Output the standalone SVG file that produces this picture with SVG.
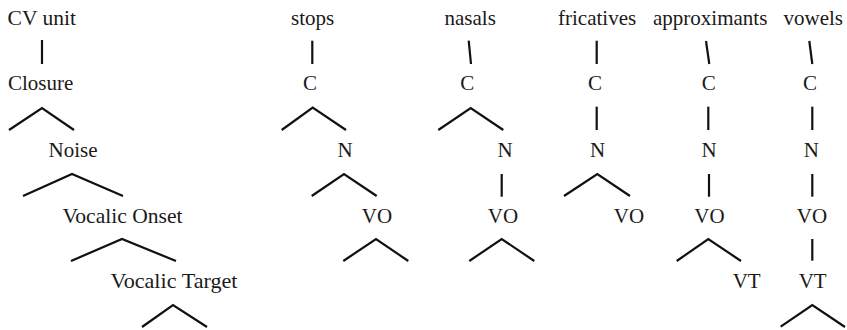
<svg xmlns="http://www.w3.org/2000/svg" width="847" height="330" viewBox="0 0 847 330">
<style>
text{font-family:"Liberation Serif","Times New Roman",serif;font-size:21px;fill:#1a1a1a}
.m{text-anchor:middle}
.c path{fill:none;stroke:#111;stroke-width:2.2;stroke-linejoin:miter;stroke-linecap:butt}
</style>
<rect width="847" height="330" fill="#fff"/>
<g id="cv-unit"><text x="7.5" y="25" textLength="68.5" lengthAdjust="spacingAndGlyphs">CV unit</text></g>
<g id="closure"><text x="8" y="90">Closure</text></g>
<g id="noise"><text x="48.5" y="157">Noise</text></g>
<g id="vocalic-onset"><text x="62.5" y="223" textLength="120" lengthAdjust="spacingAndGlyphs">Vocalic Onset</text></g>
<g id="vocalic-target"><text x="110.5" y="288" textLength="127" lengthAdjust="spacingAndGlyphs">Vocalic Target</text></g>

<g id="stops"><text x="291" y="25">stops</text></g>
<g id="stops-C"><text class="m" x="310" y="90">C</text></g>
<g id="stops-N"><text class="m" x="345" y="157">N</text></g>
<g id="stops-VO"><text class="m" x="377" y="223">VO</text></g>

<g id="nasals"><text x="444.5" y="25">nasals</text></g>
<g id="nasals-C"><text class="m" x="467.3" y="90">C</text></g>
<g id="nasals-N"><text class="m" x="505.2" y="157">N</text></g>
<g id="nasals-VO"><text class="m" x="503" y="223">VO</text></g>

<g id="fricatives"><text x="558" y="25">fricatives</text></g>
<g id="fricatives-C"><text class="m" x="595" y="90">C</text></g>
<g id="fricatives-N"><text class="m" x="597.5" y="157">N</text></g>
<g id="fricatives-VO"><text class="m" x="629" y="223">VO</text></g>

<g id="approximants"><text x="653" y="25">approximants</text></g>
<g id="approximants-C"><text class="m" x="708.7" y="90">C</text></g>
<g id="approximants-N"><text class="m" x="709" y="157">N</text></g>
<g id="approximants-VO"><text class="m" x="709.5" y="223">VO</text></g>
<g id="approximants-VT"><text class="m" x="746.7" y="288">VT</text></g>

<g id="vowels"><text x="783.5" y="25">vowels</text></g>
<g id="vowels-C"><text class="m" x="810" y="90">C</text></g>
<g id="vowels-N"><text class="m" x="811.3" y="157">N</text></g>
<g id="vowels-VO"><text class="m" x="812" y="223">VO</text></g>
<g id="vowels-VT"><text class="m" x="812.7" y="288">VT</text></g>

<g id="connectors" class="c">
<path d="M42 40V64"/>
<path d="M9 130L42 108L74 130"/>
<path d="M23 196L72 174L123 196"/>
<path d="M71 261L122 239L176 261"/>
<path d="M142 327L173 305L207 327"/>

<path d="M312.3 40.7V64"/>
<path d="M281.7 130L312.7 107.7L346 130"/>
<path d="M311.7 196L344 174L376.7 196"/>
<path d="M343.3 261L376 239L408.3 261"/>

<path d="M468.7 40.7L471 64"/>
<path d="M438.3 130L470.7 108L503.3 130"/>
<path d="M501.7 174V196.7"/>
<path d="M469.3 261L501.7 239L534.3 261"/>

<path d="M596.7 40.7V64"/>
<path d="M596.7 106.7V130"/>
<path d="M564 196L597.3 174L630 196"/>

<path d="M706 41L709.3 64"/>
<path d="M708.3 106.7V130"/>
<path d="M709 174V196.7"/>
<path d="M676.7 261L708.3 239L741 261"/>

<path d="M809.3 41L812.3 64"/>
<path d="M812.3 106.7V130"/>
<path d="M812.3 174V196.7"/>
<path d="M812.3 239V260.7"/>
<path d="M780.7 326.7L812.3 305L845 327"/>
</g>
</svg>
